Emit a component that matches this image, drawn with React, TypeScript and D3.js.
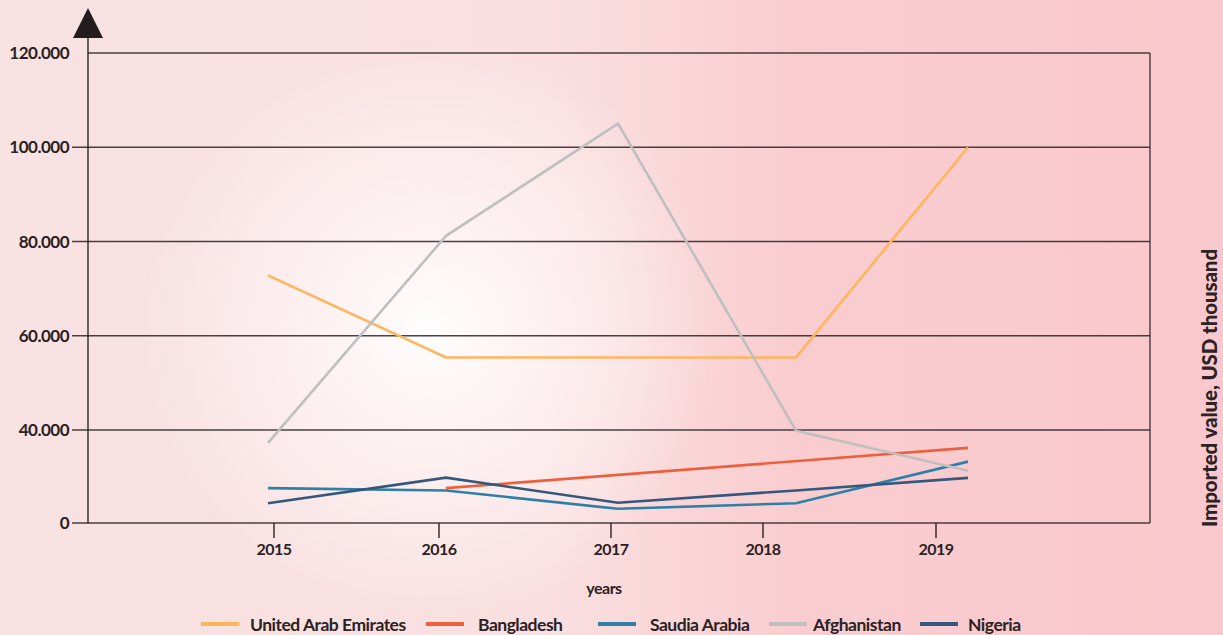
import * as d3 from 'd3'

const years = [2015, 2016, 2017, 2018, 2019]
const yTicks = [0, 40000, 60000, 80000, 100000, 120000]

const uae = [72800, 55400, 55400, 55400, 100000]
const bangladesh = [null, 15000, null, null, 32300]
const saudi = [15000, 14000, 6100, 8500, 26400]
const afghanistan = [34500, 81200, 105000, 39700, 22500]
const nigeria = [8500, 19500, 8700, 14000, 19400]

const seriesNames = ['United Arab Emirates', 'Bangladesh', 'Saudia Arabia', 'Afghanistan', 'Nigeria']
const seriesColors = ['#ffb55c', '#e9613d', '#2f80a6', '#bfbfbf', '#34577d']
const seriesValues = [uae, bangladesh, saudi, afghanistan, nigeria]

const W = 1223
const H = 635
const FONT = 'Lato, "Open Sans", sans-serif'
const INK = '#2a2224'

export default function App() {
  const left = 88
  const right = 1150
  const top = 53
  const bottom = 523

  // the source axis is broken: 0..40k takes the same height as each 20k step above it
  const y = d3.scaleLinear().domain([0, 40000, 120000]).range([bottom, 430, top])
  // tick positions and the plotted points sit at slightly different places in the source
  const xTick = d3.scaleLinear().domain(years).range([274, 439, 611, 763, 936])
  const xLine = d3.scaleLinear().domain(years).range([268, 446, 618, 796, 968])

  const line = d3.line<[number, number]>()
    .x((d) => xLine(d[0]))
    .y((d) => y(d[1]))

  const legendX = [201, 426, 598, 769, 920]
  const legendTextX = [250, 478, 650, 813, 968]

  return (
    <div style={{ position: 'fixed', left: 0, top: 0 }}>
      <svg width={W} height={H} style={{ display: 'block' }}>
        <defs>
          <linearGradient id="bg" x1="0" y1="0" x2="1" y2="0">
            <stop offset="0%" stopColor="#f8e2e2" />
            <stop offset="45%" stopColor="#fadfe0" />
            <stop offset="65%" stopColor="#f9cdd0" />
            <stop offset="100%" stopColor="#f9c8cc" />
          </linearGradient>
          <radialGradient id="glow" cx="430" cy="330" r="290" gradientUnits="userSpaceOnUse">
            <stop offset="0%" stopColor="#ffffff" stopOpacity={0.95} />
            <stop offset="35%" stopColor="#fffafa" stopOpacity={0.7} />
            <stop offset="100%" stopColor="#ffffff" stopOpacity={0} />
          </radialGradient>
        </defs>
        <rect width={W} height={H} fill="url(#bg)" />
        <rect width={W} height={H} fill="url(#glow)" />

        {/* grid */}
        {yTicks.map((t) => (
          <line key={t} x1={t === 120000 ? left : 72} x2={right} y1={y(t)} y2={y(t)}
            stroke={INK} strokeWidth={1.4} opacity={0.85} />
        ))}
        <line x1={right} x2={right} y1={top} y2={bottom} stroke={INK} strokeWidth={1.4} opacity={0.85} />
        <line x1={left} x2={left} y1={36} y2={bottom} stroke={INK} strokeWidth={1.6} opacity={0.85} />
        <path d={`M${left},8L${left + 15},38L${left - 15},38Z`} fill="#231c1e" />

        {yTicks.map((t) => (
          <text key={t} x={69} y={y(t)} dy="0.36em" textAnchor="end" fontFamily={FONT}
            fontWeight={700} fontSize={17} letterSpacing={-0.5} fill={INK}>
            {t === 0 ? '0' : d3.format(',')(t).replace(/,/g, '.')}
          </text>
        ))}

        {years.map((yr) => (
          <g key={yr}>
            <line x1={xTick(yr)} x2={xTick(yr)} y1={bottom} y2={538} stroke={INK} strokeWidth={1.4} />
            <text x={xTick(yr)} y={555} textAnchor="middle" fontFamily={FONT} fontWeight={700}
              fontSize={16} letterSpacing={-0.5} fill={INK}>{yr}</text>
          </g>
        ))}

        {seriesValues.map((vals, i) => {
          const pts = years
            .map((yr, j) => [yr, vals[j]] as [number, number | null])
            .filter((d): d is [number, number] => d[1] !== null)
          return (
            <path key={seriesNames[i]} d={line(pts) ?? ''}
              fill="none" stroke={seriesColors[i]} strokeWidth={2.6} />
          )
        })}

        <text x={604} y={594} textAnchor="middle" fontFamily={FONT} fontWeight={700}
          fontSize={16} letterSpacing={-0.5} fill={INK}>years</text>

        <text transform={`translate(1217,388) rotate(-90)`} textAnchor="middle" fontFamily={FONT}
          fontWeight={900} fontSize={20.5} letterSpacing={-0.1} fill={INK}>
          Imported value, USD thousand
        </text>

        {seriesNames.map((name, i) => (
          <g key={name}>
            <line x1={legendX[i]} x2={legendX[i] + 38} y1={624} y2={624}
              stroke={seriesColors[i]} strokeWidth={4} />
            <text x={legendTextX[i]} y={631}
              fontFamily={FONT} fontWeight={700} fontSize={17.5} letterSpacing={-0.5} fill={INK}>
              {name}
            </text>
          </g>
        ))}
      </svg>
    </div>
  )
}
